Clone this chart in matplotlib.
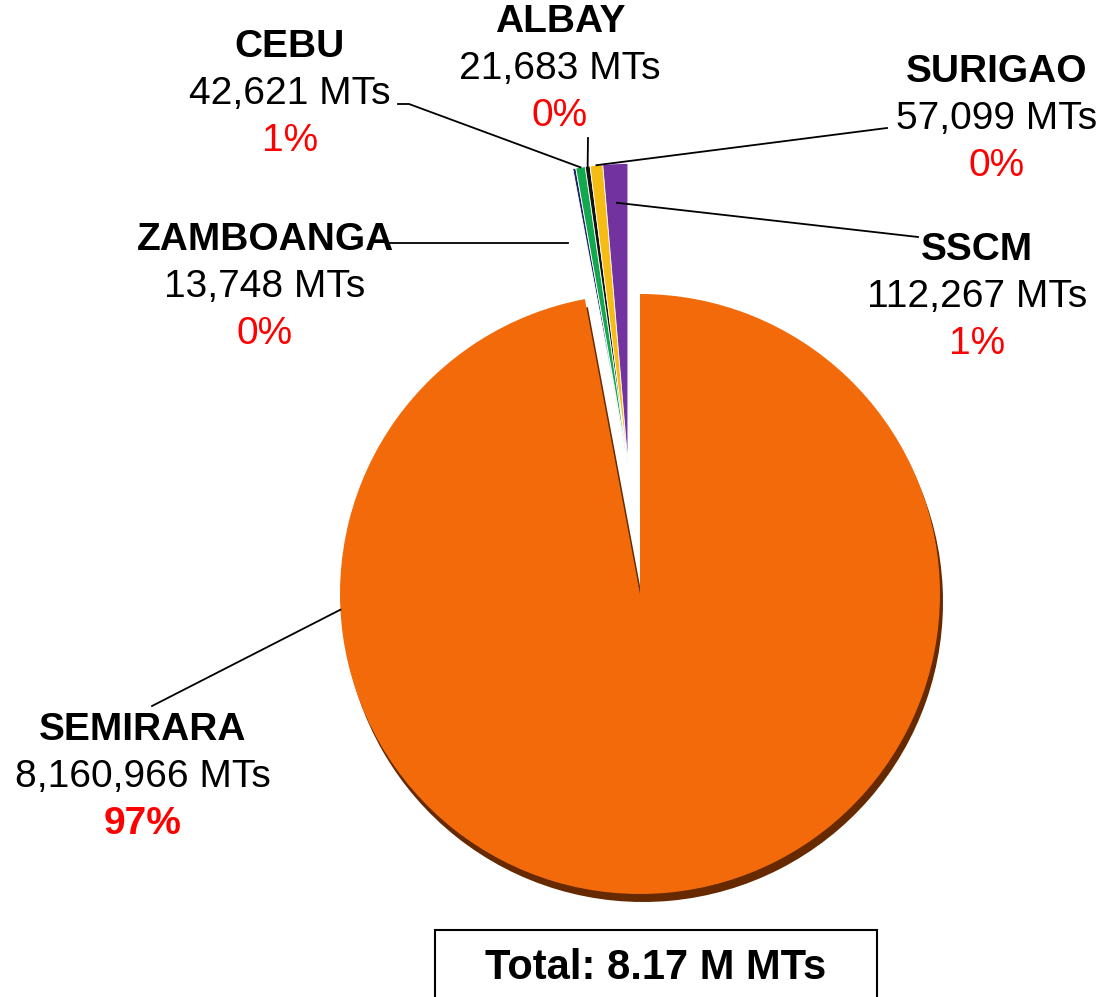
import numpy as np
import matplotlib
matplotlib.use("Agg")
import matplotlib.pyplot as plt
from matplotlib.patches import Rectangle

plt.rcParams['font.family'] = ['Liberation Sans', 'DejaVu Sans']

# --- data ---
names = ["SEMIRARA", "ZAMBOANGA", "CEBU", "ALBAY", "SURIGAO", "SSCM"]
volumes = [8160966, 13748, 42621, 21683, 57099, 112267]
pct_labels = ["97%", "0%", "1%", "0%", "0%", "1%"]
colors = ["#F26A0A", "#1F2266", "#12A84E", "#111111", "#F5BC14", "#7232A0"]
total_label = "Total: 8.17 M MTs"

W, H = 1103, 997
fig = plt.figure(figsize=(W / 100, H / 100), dpi=100)
ax = fig.add_axes([0, 0, 1, 1])

def Y(y_img):
    return H - y_img

cx, cy, R = 640, Y(594), 300

# shadow under the big slice
shadow_cols = ["#662900"] + ["none"] * (len(volumes) - 1)
ax.pie(volumes, colors=shadow_cols, startangle=90, counterclock=False,
       radius=R, center=(cx + 3, cy - 8), frame=True,
       wedgeprops=dict(linewidth=0))

wedges, _ = ax.pie(volumes, colors=colors, startangle=90, counterclock=False,
                   radius=R, center=(cx, cy), frame=True,
                   wedgeprops=dict(edgecolor="white", linewidth=0.6))
wedges[0].set_linewidth(0)
ax.set_xlim(0, W)
ax.set_ylim(0, H)
ax.set_aspect("equal")
ax.axis("off")

# pull the small slices out together
small_frac = sum(volumes[1:]) / sum(volumes)
mid = np.deg2rad(90 + 360 * small_frac / 2)
shift = 131
for w in wedges[1:]:
    w.set_center((cx + shift * np.cos(mid), cy + shift * np.sin(mid)))

def anchor(i, frac):
    w = wedges[i]
    a = np.deg2rad((w.theta1 + w.theta2) / 2)
    c = w.center
    return c[0] + frac * w.r * np.cos(a), c[1] + frac * w.r * np.sin(a)

# label positions (image px: x center, y of first line)
label_pos = {
    "SEMIRARA": (143, 730),
    "ZAMBOANGA": (265, 240),
    "CEBU": (290, 47),
    "ALBAY": (560, 22),
    "SURIGAO": (997, 72),
    "SSCM": (977, 250),
}
fs = 28
gap = 47
for i, n in enumerate(names):
    x, y = label_pos[n]
    ax.text(x, Y(y), n, ha="center", va="center", fontsize=fs, fontweight="bold")
    ax.text(x, Y(y + gap), f"{volumes[i]:,} MTs", ha="center", va="center", fontsize=fs)
    ax.text(x, Y(y + 2 * gap), pct_labels[i], ha="center", va="center", fontsize=fs,
            color="red", fontweight="bold" if i == 0 else "normal")

# leader lines: (slice index, fraction along slice radius, text-side points)
leaders = [
    (0, 1.0, [(152, 706)]),
    (1, 0.71, [(568, 243), (390, 243)]),
    (2, 1.0, [(409, 104), (398, 104)]),
    (3, 1.0, [(588, 138)]),
    (4, 1.0, [(887, 128)]),
    (5, 0.87, [(918, 237)]),
]
for i, frac, pts in leaders:
    ax0, ay0 = anchor(i, frac)
    if i == 0:
        a = np.deg2rad(183)
        ax0, ay0 = cx + R * np.cos(a), cy + R * np.sin(a)
    xs = [ax0] + [p[0] for p in pts]
    ys = [ay0] + [Y(p[1]) for p in pts]
    if i == 1:
        xs, ys = [p[0] for p in pts], [Y(p[1]) for p in pts]
    ax.plot(xs, ys, color="black", linewidth=1.3, zorder=5)

# total box
ax.add_patch(Rectangle((435, Y(1010)), 442, 80, fill=False, edgecolor="black",
                       linewidth=1.5, clip_on=False))
ax.text(656, Y(968), total_label, ha="center", va="center", fontsize=30,
        fontweight="bold")

fig.savefig("out.png", dpi=100)
